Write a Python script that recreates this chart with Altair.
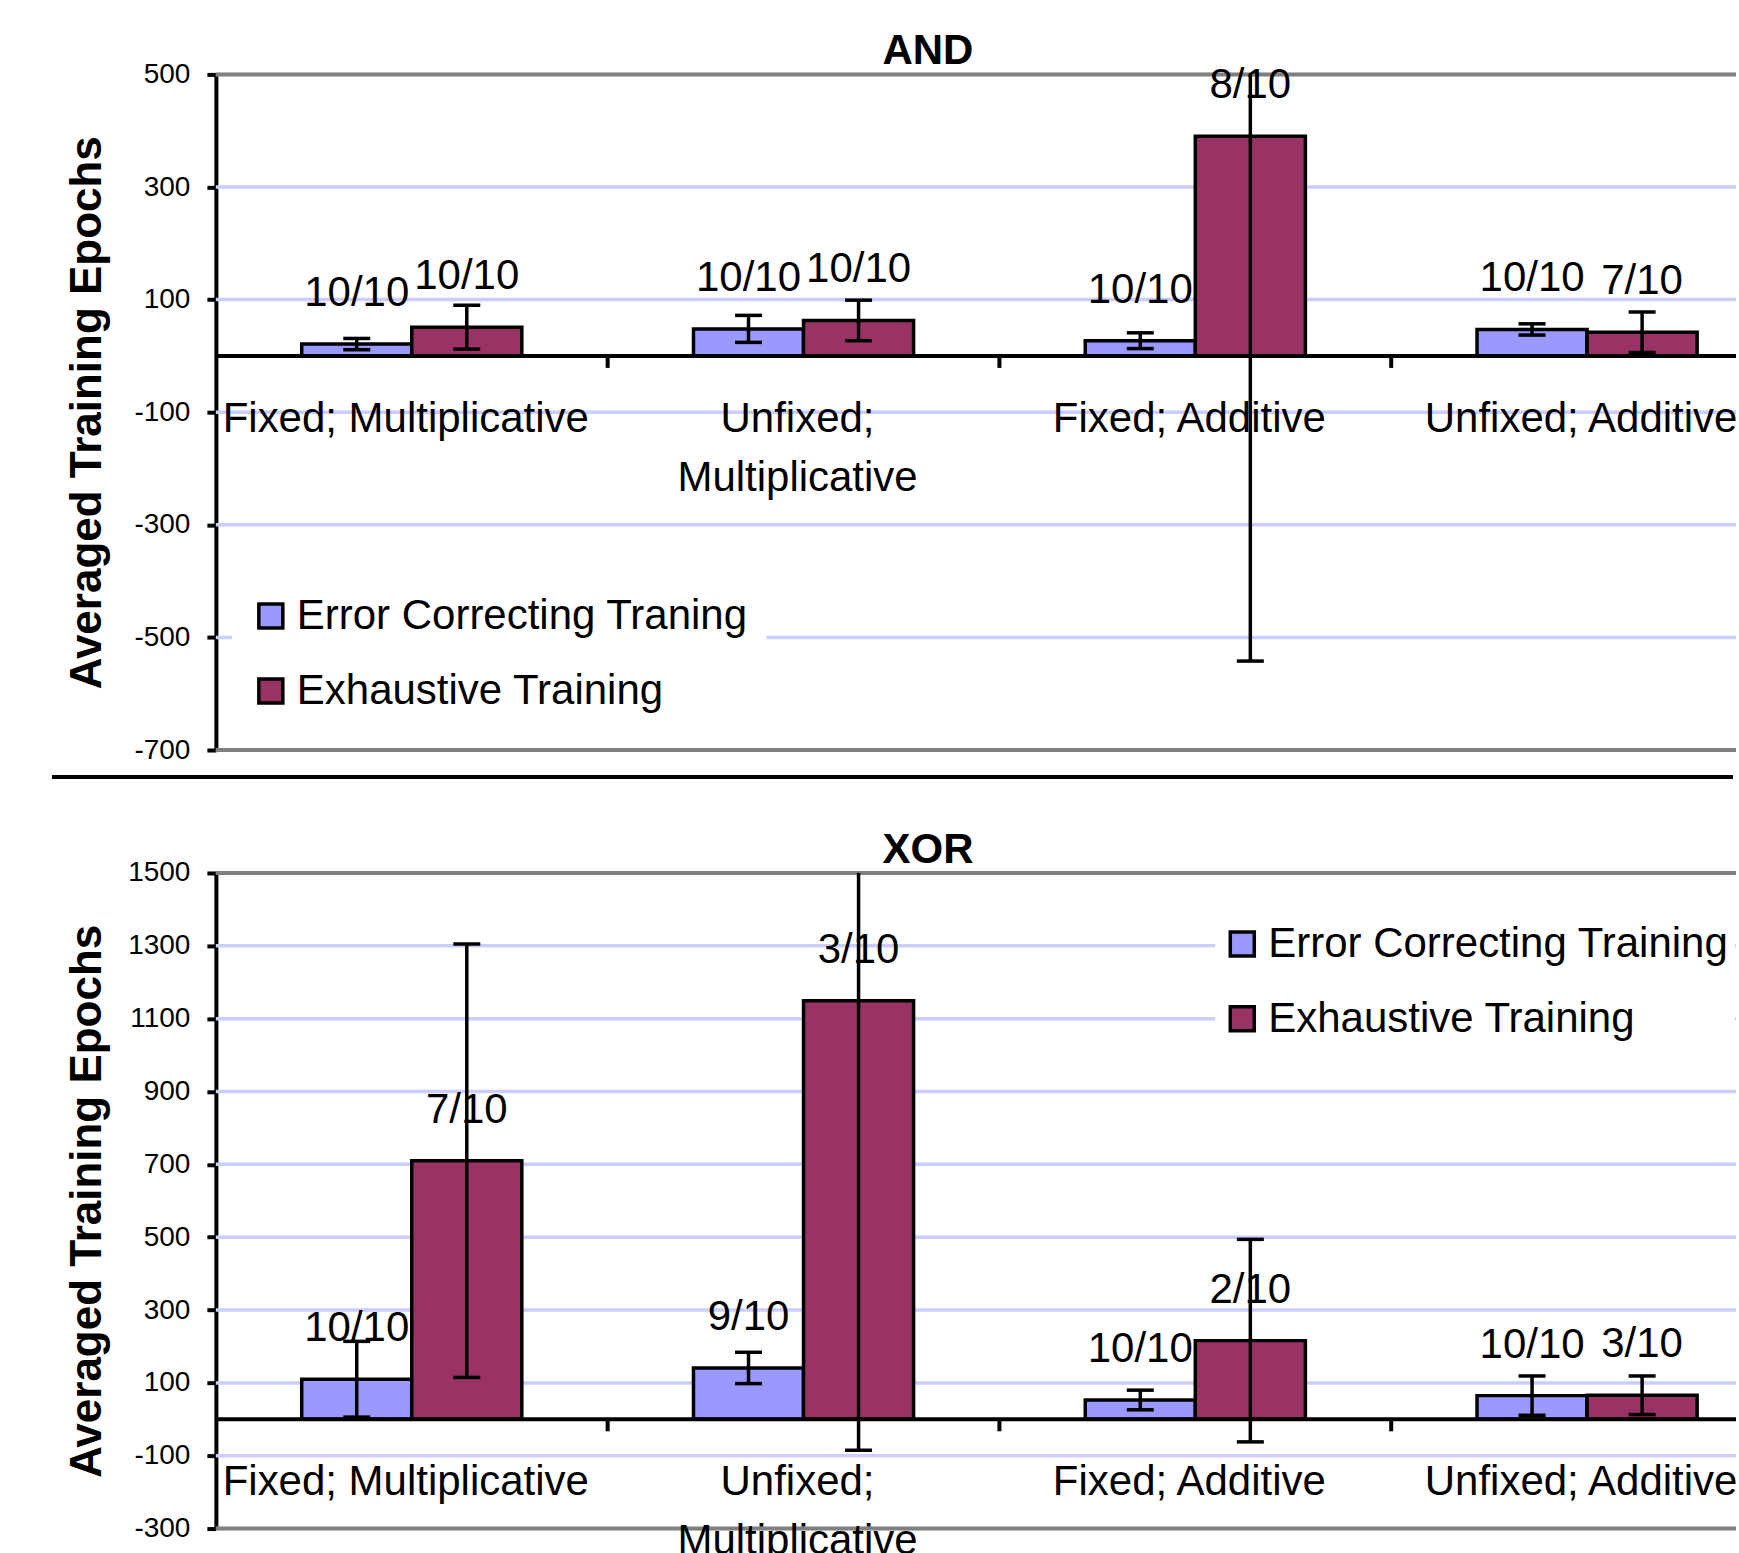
import altair as alt
import pandas as pd

FONT = "Liberation Sans"

categories = ["Fixed; Multiplicative", "Unfixed; Multiplicative", "Fixed; Additive", "Unfixed; Additive"]

and_series = ["Error Correcting Traning", "Exhaustive Training"]
and_ec_mean = [21, 48, 27, 47]
and_ec_err = [10, 24, 14, 10]
and_ec_label = ["10/10", "10/10", "10/10", "10/10"]
and_ex_mean = [51, 63, 390, 42]
and_ex_err = [39, 36, 932, 36]
and_ex_label = ["10/10", "10/10", "8/10", "7/10"]
and_ticks = [-700, -500, -300, -100, 100, 300, 500]
and_domain = [-700, 500]

xor_series = ["Error Correcting Training", "Exhaustive Training"]
xor_ec_mean = [110, 141, 53, 65]
xor_ec_err = [104, 43, 27, 54]
xor_ec_label = ["10/10", "9/10", "10/10", "10/10"]
xor_ex_mean = [710, 1149, 216, 66]
xor_ex_err = [595, 1234, 278, 53]
xor_ex_label = ["7/10", "3/10", "2/10", "3/10"]
xor_ticks = [-300, -100, 100, 300, 500, 700, 900, 1100, 1300, 1500]
xor_domain = [-300, 1500]

colors = ["#9999ff", "#993366"]

W = 1521        # visible plot width (chart is cut at the right edge like the reference)
FULL = 1568     # full category range


def make_df(series, ec_mean, ec_err, ec_lab, ex_mean, ex_err, ex_lab):
    rows = []
    for i, c in enumerate(categories):
        for s, m, e, l in ((series[0], ec_mean[i], ec_err[i], ec_lab[i]),
                           (series[1], ex_mean[i], ex_err[i], ex_lab[i])):
            rows.append({"cat": c, "series": s, "mean": m, "lo": m - e, "hi": m + e, "label": l})
    return pd.DataFrame(rows)


def panel(df, title, series, ticks, domain, H, legend_xy, legend_pad, title_pad, sep=False):
    yscale = alt.Scale(domain=domain, nice=False, zero=False)
    yaxis = alt.Axis(values=ticks, title="Averaged Training Epochs",
                     titleFontSize=44, titleFontWeight="bold", titleFont=FONT,
                     titleColor="black", titlePadding=title_pad,
                     labelFontSize=28, labelFont=FONT, labelColor="black",
                     labelExpr="datum.value + ''",
                     labelPadding=17, tickSize=9, tickWidth=4, tickColor="black",
                     domainColor="black", domainWidth=4, grid=False)
    xscale = alt.Scale(domain=categories, range=[0, FULL], paddingInner=0, paddingOuter=0)
    x = alt.X("cat:N", sort=categories, scale=xscale, axis=None)
    xo = alt.XOffset("series:N", sort=series,
                     scale=alt.Scale(domain=series, paddingInner=0, paddingOuter=0.78))
    base = alt.Chart(df)
    one = alt.Chart(pd.DataFrame({"s": [0]}))
    cats = alt.Chart(pd.DataFrame({"cat": categories}))

    grid = alt.Chart(pd.DataFrame({"t": ticks})).mark_rule(color="#ccccff", strokeWidth=3.5).encode(
        x=alt.value(0), x2=alt.value(W), y=alt.Y("t:Q", scale=yscale, axis=yaxis))
    frame_top = one.mark_rule(color="#808080", strokeWidth=4).encode(
        x=alt.value(0), x2=alt.value(W), y=alt.YDatum(domain[1], scale=yscale, axis=yaxis))
    frame_bot = one.mark_rule(color="#808080", strokeWidth=4).encode(
        x=alt.value(0), x2=alt.value(W), y=alt.YDatum(domain[0], scale=yscale, axis=yaxis))
    bars = base.mark_bar(stroke="black", strokeWidth=3.5, opacity=1).encode(
        x=x, xOffset=xo,
        y=alt.Y("mean:Q", scale=yscale, axis=yaxis),
        color=alt.Color("series:N", sort=series,
                        scale=alt.Scale(domain=series, range=colors),
                        legend=alt.Legend(orient="none", legendX=legend_xy[0], legendY=legend_xy[1],
                                          title=None, symbolType="square", symbolSize=576,
                                          symbolStrokeColor="black", symbolStrokeWidth=3.5,
                                          symbolOpacity=1, labelFontSize=42, labelFont=FONT,
                                          labelColor="black", labelOffset=5, rowPadding=33,
                                          padding=legend_pad, fillColor="white", labelLimit=1000)),
    )
    zero_line = one.mark_rule(color="black", strokeWidth=4).encode(
        x=alt.value(0), x2=alt.value(W), y=alt.YDatum(0, scale=yscale, axis=yaxis))
    cat_ticks = alt.Chart(pd.DataFrame({"cat": categories[1:]})).mark_rule(
        color="black", strokeWidth=4, y2Offset=12).encode(
        x=alt.X("cat:N", sort=categories, scale=xscale, axis=None, bandPosition=0),
        y=alt.YDatum(0, scale=yscale, axis=yaxis), y2=alt.Y2Datum(0))
    cat_labels = cats.transform_calculate(
        lab="length(datum.cat) > 21 ? split(datum.cat, ' ') : datum.cat"
    ).mark_text(fontSize=42, font=FONT, color="black", baseline="top", align="center",
                dy=43, dx=-6, lineHeight=59).encode(
        x=x, y=alt.YDatum(0, scale=yscale, axis=yaxis), text="lab:N")
    err = base.mark_rule(color="black", strokeWidth=3.5, clip=True).encode(
        x=x, xOffset=xo, y=alt.Y("lo:Q", scale=yscale, axis=yaxis), y2="hi:Q")
    cap_lo = base.mark_tick(color="black", thickness=3.5, size=27, clip=True, opacity=1).encode(
        x=x, xOffset=xo, y=alt.Y("lo:Q", scale=yscale, axis=yaxis))
    cap_hi = base.mark_tick(color="black", thickness=3.5, size=27, clip=True, opacity=1).encode(
        x=x, xOffset=xo, y=alt.Y("hi:Q", scale=yscale, axis=yaxis))
    text = base.mark_text(fontSize=42, font=FONT, color="black", dy=-38,
                          baseline="alphabetic", align="center").encode(
        x=x, xOffset=xo, y=alt.Y("mean:Q", scale=yscale, axis=yaxis), text="label:N")
    layers = [grid, frame_top, frame_bot, bars, zero_line, cat_ticks, cat_labels,
              err, cap_lo, cap_hi, text]
    if sep:
        sep_rule = one.mark_rule(color="black", strokeWidth=4).encode(
            x=alt.value(-164), x2=alt.value(W - 3), y=alt.value(H + 27))
        layers.append(sep_rule)
    return alt.layer(*layers).properties(
        width=W, height=H,
        title=alt.TitleParams(title, fontSize=42, fontWeight="bold", font=FONT, color="black",
                              offset=-13, anchor="middle", frame="group", dx=-48))


df_and = make_df(and_series, and_ec_mean, and_ec_err, and_ec_label, and_ex_mean, and_ex_err, and_ex_label)
df_xor = make_df(xor_series, xor_ec_mean, xor_ec_err, xor_ec_label, xor_ex_mean, xor_ex_err, xor_ex_label)

top = panel(df_and, "AND", and_series, and_ticks, and_domain, 676, (16, 503), 18, 24, sep=True)
bottom = panel(df_xor, "XOR", xor_series, xor_ticks, xor_domain, 656, (1000, 44), 6, 18)

chart = alt.vconcat(top, bottom, spacing=50).resolve_scale(
    color="independent", y="independent", x="independent", xOffset="independent"
).properties(
    padding={"left": 50, "top": 30, "right": 0, "bottom": 0},
    background="white",
).configure_view(stroke=None)

chart.save("out.html", embed_options={"renderer": "svg", "actions": False})
